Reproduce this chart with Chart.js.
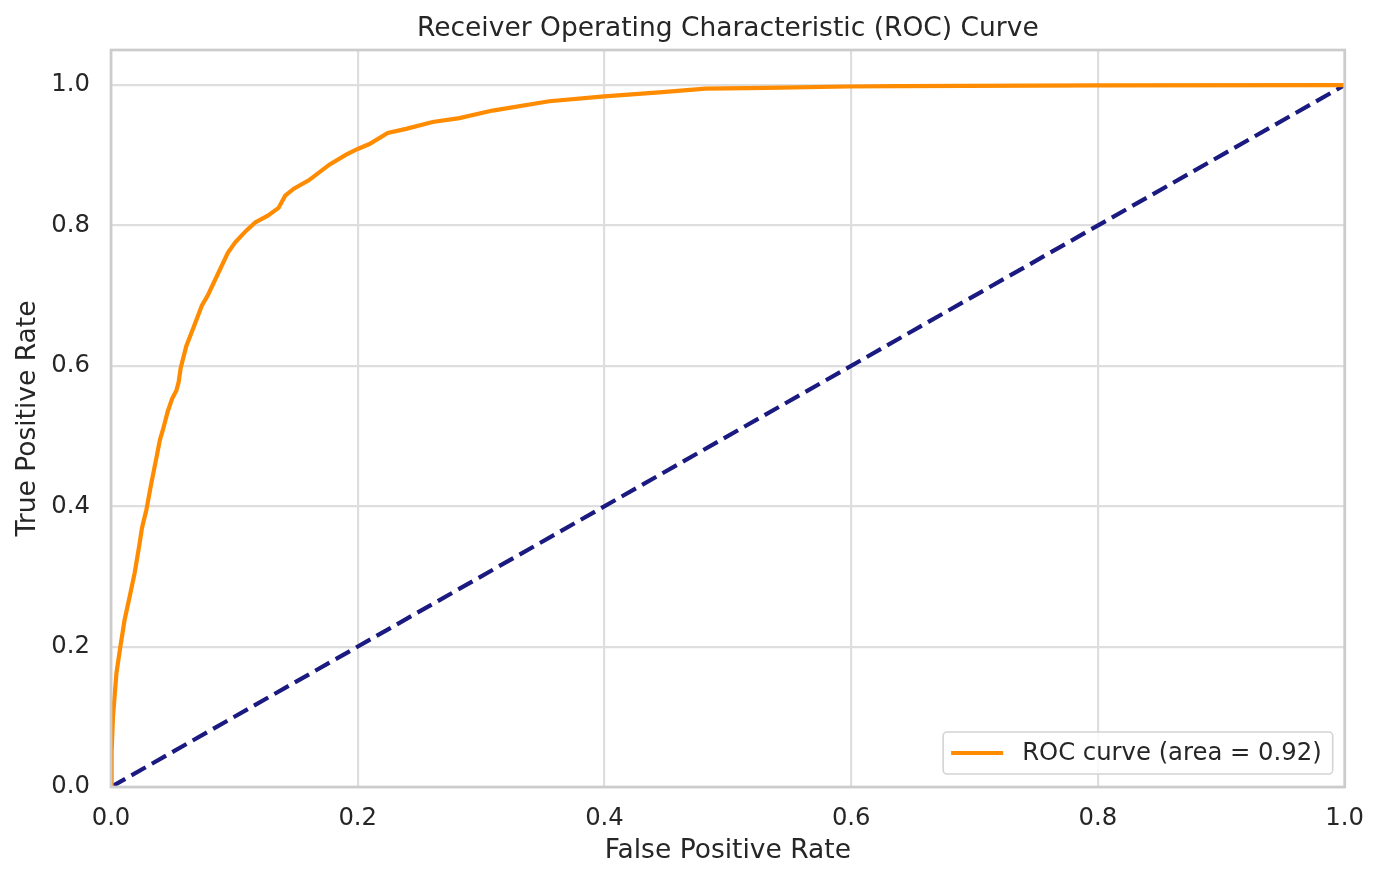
<!DOCTYPE html>
<html>
<head>
<meta charset="utf-8">
<script src="https://cdn.jsdelivr.net/npm/chart.js@4"></script>
<style>
  html, body { margin: 0; padding: 0; background: #fff; }
  #wrap { width: 1381px; height: 882px; }
</style>
</head>
<body>
<div id="wrap"><canvas id="myChart" width="1381" height="882"></canvas></div>
<script>
// ROC curve points
var fpr = [0, 0.0005, 0.0016, 0.0044, 0.0076, 0.011, 0.0151, 0.0192, 0.0232, 0.0251, 0.0287,
           0.0327, 0.0368, 0.0397, 0.0421, 0.046, 0.0495, 0.053, 0.0548, 0.0565, 0.061, 0.0672,
           0.0737, 0.0786, 0.0947, 0.1007, 0.1096, 0.1169, 0.1271, 0.1358, 0.1412, 0.1482,
           0.1603, 0.177, 0.1906, 0.2, 0.2095, 0.2243, 0.2392, 0.2607, 0.2824, 0.3093, 0.3552,
           0.3998, 0.4443, 0.482, 0.5307, 0.598, 0.6387, 0.8, 1.0];
var tpr = [0, 0.05, 0.1, 0.162, 0.2, 0.238, 0.271, 0.305, 0.347, 0.369, 0.395,
           0.433, 0.469, 0.495, 0.509, 0.535, 0.553, 0.565, 0.5765, 0.597, 0.628, 0.656,
           0.686, 0.701, 0.761, 0.776, 0.7926, 0.8044, 0.814, 0.825, 0.8425, 0.8525,
           0.8643, 0.8867, 0.901, 0.909, 0.916, 0.9318, 0.9376, 0.9475, 0.953, 0.9637, 0.977,
           0.984, 0.9897, 0.995, 0.996, 0.998, 0.9985, 0.9995, 1.0];
var chanceX = [0, 1];
var chanceY = [0, 1];
var xTicks = [0, 0.2, 0.4, 0.6, 0.8, 1.0];
var yTicks = [0, 0.2, 0.4, 0.6, 0.8, 1.0];
var rocLabel = 'ROC curve (area = 0.92)';

var txt = '#262626';
var fam = "'DejaVu Sans', sans-serif";

function pts(xs, ys) {
    var out = [];
    for (var i = 0; i < xs.length; i++) out.push({x: xs[i], y: ys[i]});
    return out;
}

// frame around the plot + legend box in the lower right
var framePlugin = {
    id: 'frame',
    afterDatasetsDraw: function(chart) {
        var c = chart.ctx, a = chart.chartArea;
        c.save();
        c.strokeStyle = '#cccccc';
        c.lineWidth = 2.7;
        c.strokeRect(a.left, a.top, a.right - a.left, a.bottom - a.top);

        var ds = chart.data.datasets[0];
        c.font = '24.3px ' + fam;
        var tw = c.measureText(ds.label).width;
        var w = 8 + 52 + 19 + tw + 11, h = 42;
        var x = a.right - 12 - w, y = a.bottom - 13 - h;
        c.beginPath();
        c.roundRect(x, y, w, h, 4);
        c.fillStyle = 'rgba(255,255,255,0.8)';
        c.fill();
        c.strokeStyle = '#d4d4d4';
        c.lineWidth = 1.6;
        c.stroke();
        c.beginPath();
        c.moveTo(x + 8, y + h / 2);
        c.lineTo(x + 60, y + h / 2);
        c.strokeStyle = ds.borderColor;
        c.lineWidth = 4.2;
        c.stroke();
        c.fillStyle = txt;
        c.textBaseline = 'middle';
        c.fillText(ds.label, x + 79, y + h / 2 + 1);
        c.restore();
    }
};

var ctx = document.getElementById('myChart');
var myChart = new Chart(ctx, {
    type: 'scatter',
    data: {
        datasets: [{
            label: rocLabel,
            data: pts(fpr, tpr),
            showLine: true,
            borderColor: '#ff8c00',
            backgroundColor: '#ff8c00',
            borderWidth: 4.2,
            pointRadius: 0,
            tension: 0
        }, {
            label: 'chance',
            data: pts(chanceX, chanceY),
            showLine: true,
            borderColor: '#1a1a80',
            borderWidth: 4.2,
            borderDash: [16.4, 7.1],
            pointRadius: 0
        }]
    },
    options: {
        responsive: false,
        animation: false,
        layout: { padding: { left: 0, right: 35, top: 0, bottom: 0 } },
        plugins: {
            legend: { display: false },
            tooltip: { enabled: false },
            title: {
                display: true,
                fullSize: false,
                text: 'Receiver Operating Characteristic (ROC) Curve',
                color: txt,
                font: { family: fam, size: 26.5, weight: 'normal' },
                padding: { top: 13.5, bottom: 4.7 }
            }
        },
        scales: {
            x: {
                type: 'linear',
                min: 0, max: 1,
                afterBuildTicks: function(s) { s.ticks = xTicks.map(function(v) { return {value: v}; }); },
                afterFit: function(s) { s.height = 95; },
                border: { display: false },
                grid: { color: '#dedede', lineWidth: 2.2, drawTicks: false, tickLength: 0 },
                ticks: {
                    color: txt, padding: 17,
                    font: { family: fam, size: 24.3 },
                    callback: function(v) { return v.toFixed(1); }
                },
                title: {
                    display: true, text: 'False Positive Rate', color: txt,
                    font: { family: fam, size: 26.5 },
                    padding: { top: 0, bottom: 15 }
                }
            },
            y: {
                type: 'linear',
                min: 0, max: 1.05,
                afterBuildTicks: function(s) { s.ticks = yTicks.map(function(v) { return {value: v}; }); },
                afterFit: function(s) { s.width = 111; },
                border: { display: false },
                grid: { color: '#dedede', lineWidth: 2.2, drawTicks: false, tickLength: 0 },
                ticks: {
                    color: txt, padding: 21,
                    font: { family: fam, size: 24.3 },
                    callback: function(v) { return v.toFixed(1); }
                },
                title: {
                    display: true, text: 'True Positive Rate', color: txt,
                    font: { family: fam, size: 26.5 },
                    padding: { top: 12, bottom: 0 }
                }
            }
        }
    },
    plugins: [framePlugin]
});
</script>
</body>
</html>
